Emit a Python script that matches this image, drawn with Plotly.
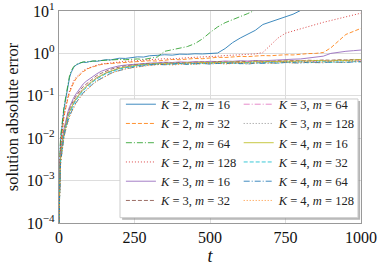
import plotly.graph_objects as go

T = [0, 1, 2, 4, 6, 8, 10, 13, 16, 20, 25, 30, 35, 40, 48, 56, 64, 72, 80, 90,
     100, 112, 125, 140, 155, 170, 185, 200, 220, 240, 260, 280, 300, 325, 350, 375, 400, 425, 450, 475,
     500, 525, 550, 575, 600, 625, 650, 675, 700, 725, 750, 775, 800, 825, 850, 875, 900, 925, 950, 975, 1000]

K2_m16 = [8e-5, 1.2e-3, 2.6e-3, 6.0e-3, 1.0e-2, 1.5e-2, 2.1e-2, 3.2e-2, 4.6e-2, 6.8e-2,
          0.115, 0.19, 0.27, 0.35, 0.46, 0.53, 0.57, 0.60, 0.62, 0.61,
          0.64, 0.66, 0.65, 0.68, 0.71, 0.70, 0.74, 0.77, 0.76, 0.80,
          0.83, 0.82, 0.88, 0.90, 0.93, 0.91, 0.96, 0.95, 0.98, 0.97,
          0.99, 1.02, 1.3, 1.8, 2.3, 2.85, 3.5, 4.8, 5.5, 6.2,
          7.1, 8.4, 10.3, 12.5, 14.5, 17, 19, 22, 25, 28, 31]
K2_m32 = [1e-4, 8e-4, 1.8e-3, 4.0e-3, 7.0e-3, 1.0e-2, 1.4e-2, 2.1e-2, 3.0e-2, 4.3e-2,
          6.5e-2, 9.0e-2, 0.12, 0.15, 0.20, 0.25, 0.29, 0.33, 0.37, 0.41,
          0.45, 0.48, 0.52, 0.55, 0.57, 0.58, 0.60, 0.61, 0.62, 0.64,
          0.63, 0.66, 0.67, 0.66, 0.70, 0.72, 0.71, 0.74, 0.76, 0.75,
          0.79, 0.81, 0.80, 0.83, 0.85, 0.84, 0.87, 0.89, 0.88, 0.91,
          0.93, 0.92, 0.96, 0.99, 1.0, 1.05, 1.35, 2.0, 2.8, 3.3, 3.9]
K2_m64 = [1e-4, 1.5e-3, 3.0e-3, 7.0e-3, 1.2e-2, 1.7e-2, 2.4e-2, 3.6e-2, 5.1e-2, 7.6e-2,
          0.13, 0.21, 0.30, 0.38, 0.48, 0.55, 0.58, 0.61, 0.63, 0.64,
          0.63, 0.66, 0.67, 0.66, 0.69, 0.70, 0.69, 0.72, 0.71, 0.73,
          0.74, 0.72, 0.75, 0.82, 1.12, 1.22, 1.32, 1.45, 1.7, 2.2,
          3.1, 4.2, 5.3, 6.2, 7.2, 8.7, 10.5, 12, 14, 16,
          18, 20, 23, 26, 29, 32, 35, 38, 41, 44, 48]
K2_m128 = [1e-4, 9e-4, 2.0e-3, 4.5e-3, 7.5e-3, 1.1e-2, 1.5e-2, 2.3e-2, 3.2e-2, 4.6e-2,
           7.0e-2, 0.10, 0.13, 0.16, 0.22, 0.27, 0.31, 0.35, 0.39, 0.43,
           0.46, 0.50, 0.53, 0.56, 0.58, 0.60, 0.62, 0.63, 0.65, 0.66,
           0.68, 0.69, 0.71, 0.72, 0.75, 0.74, 0.78, 0.79, 0.81, 0.82,
           0.85, 0.86, 0.89, 0.90, 0.93, 0.95, 0.97, 1.05, 1.6, 2.3,
           3.0, 3.4, 3.9, 4.4, 4.8, 5.4, 6.0, 6.6, 7.3, 8.1, 8.9]
K3_m16 = [1e-4, 6e-4, 1.3e-3, 3.0e-3, 4.5e-3, 6.5e-3, 8.5e-3, 1.2e-2, 1.6e-2, 2.2e-2,
          3.2e-2, 4.3e-2, 5.5e-2, 6.7e-2, 8.8e-2, 0.11, 0.135, 0.16, 0.19, 0.22,
          0.25, 0.29, 0.33, 0.38, 0.42, 0.45, 0.48, 0.51, 0.53, 0.55,
          0.57, 0.58, 0.59, 0.60, 0.62, 0.61, 0.63, 0.62, 0.64, 0.63,
          0.65, 0.64, 0.66, 0.65, 0.67, 0.66, 0.68, 0.67, 0.69, 0.70,
          0.71, 0.73, 0.74, 0.77, 0.80, 0.86, 1.0, 1.07, 1.12, 1.16, 1.2]
K3_m32 = [1e-4, 5e-4, 1.2e-3, 2.7e-3, 4.1e-3, 5.8e-3, 7.6e-3, 1.1e-2, 1.45e-2, 2.0e-2,
          2.9e-2, 3.8e-2, 4.9e-2, 6.0e-2, 7.8e-2, 9.8e-2, 0.12, 0.14, 0.165, 0.19,
          0.22, 0.26, 0.30, 0.34, 0.38, 0.42, 0.45, 0.48, 0.51, 0.53,
          0.55, 0.56, 0.58, 0.57, 0.60, 0.59, 0.61, 0.60, 0.62, 0.63,
          0.61, 0.64, 0.63, 0.62, 0.65, 0.64, 0.66, 0.65, 0.64, 0.67,
          0.66, 0.68, 0.67, 0.69, 0.68, 0.70, 0.69, 0.71, 0.70, 0.72, 0.71]
K3_m64 = [1e-4, 5e-4, 1.1e-3, 2.5e-3, 3.8e-3, 5.3e-3, 7.0e-3, 1.0e-2, 1.3e-2, 1.8e-2,
          2.6e-2, 3.4e-2, 4.4e-2, 5.3e-2, 7.0e-2, 8.8e-2, 0.107, 0.127, 0.148, 0.17,
          0.20, 0.23, 0.27, 0.31, 0.35, 0.39, 0.42, 0.45, 0.48, 0.51,
          0.53, 0.55, 0.56, 0.58, 0.57, 0.59, 0.60, 0.58, 0.61, 0.60,
          0.62, 0.61, 0.63, 0.60, 0.62, 0.64, 0.63, 0.62, 0.65, 0.64,
          0.66, 0.65, 0.67, 0.66, 0.65, 0.68, 0.67, 0.69, 0.68, 0.70, 0.69]
K3_m128 = [1e-4, 4.5e-4, 1.0e-3, 2.3e-3, 3.5e-3, 4.9e-3, 6.5e-3, 9.3e-3, 1.2e-2, 1.7e-2,
           2.4e-2, 3.2e-2, 4.1e-2, 5.0e-2, 6.6e-2, 8.3e-2, 0.10, 0.12, 0.14, 0.16,
           0.19, 0.22, 0.26, 0.30, 0.34, 0.37, 0.41, 0.44, 0.47, 0.50,
           0.52, 0.54, 0.55, 0.57, 0.56, 0.58, 0.57, 0.59, 0.58, 0.60,
           0.59, 0.61, 0.60, 0.62, 0.61, 0.60, 0.63, 0.62, 0.64, 0.63,
           0.65, 0.64, 0.63, 0.66, 0.65, 0.67, 0.66, 0.68, 0.67, 0.69, 0.70]
K4_m16 = [1e-4, 4.5e-4, 1.0e-3, 2.3e-3, 3.5e-3, 5.0e-3, 6.6e-3, 9.5e-3, 1.25e-2, 1.75e-2,
          2.5e-2, 3.3e-2, 4.2e-2, 5.1e-2, 6.7e-2, 8.4e-2, 0.102, 0.122, 0.143, 0.165,
          0.195, 0.225, 0.265, 0.305, 0.345, 0.38, 0.415, 0.445, 0.475, 0.505,
          0.53, 0.545, 0.56, 0.575, 0.57, 0.59, 0.58, 0.60, 0.59, 0.61,
          0.60, 0.62, 0.61, 0.63, 0.62, 0.61, 0.64, 0.63, 0.65, 0.64,
          0.66, 0.65, 0.67, 0.66, 0.68, 0.67, 0.66, 0.69, 0.68, 0.70, 0.72]
K4_m32 = [1e-4, 4e-4, 9e-4, 2.1e-3, 3.2e-3, 4.5e-3, 6.0e-3, 8.6e-3, 1.15e-2, 1.6e-2,
          2.3e-2, 3.0e-2, 3.8e-2, 4.7e-2, 6.2e-2, 7.8e-2, 9.5e-2, 0.113, 0.133, 0.155,
          0.183, 0.213, 0.25, 0.29, 0.33, 0.365, 0.40, 0.43, 0.46, 0.49,
          0.51, 0.53, 0.55, 0.56, 0.55, 0.57, 0.58, 0.56, 0.58, 0.57,
          0.59, 0.58, 0.60, 0.59, 0.57, 0.60, 0.59, 0.61, 0.60, 0.59,
          0.62, 0.61, 0.63, 0.60, 0.62, 0.64, 0.61, 0.63, 0.62, 0.64, 0.63]
K4_m64 = [1e-4, 3.5e-4, 8e-4, 1.9e-3, 2.9e-3, 4.0e-3, 5.3e-3, 7.6e-3, 1.0e-2, 1.4e-2,
          2.0e-2, 2.6e-2, 3.3e-2, 4.1e-2, 5.4e-2, 6.8e-2, 8.3e-2, 9.9e-2, 0.117, 0.138,
          0.163, 0.19, 0.225, 0.26, 0.30, 0.335, 0.37, 0.40, 0.43, 0.46,
          0.49, 0.51, 0.53, 0.55, 0.54, 0.56, 0.57, 0.55, 0.57, 0.58,
          0.56, 0.58, 0.57, 0.59, 0.58, 0.56, 0.59, 0.58, 0.60, 0.59,
          0.61, 0.60, 0.59, 0.62, 0.61, 0.60, 0.63, 0.62, 0.61, 0.63, 0.64]
K4_m128 = [1e-4, 3.5e-4, 7.8e-4, 1.8e-3, 2.8e-3, 3.9e-3, 5.1e-3, 7.3e-3, 9.7e-3, 1.35e-2,
           1.9e-2, 2.5e-2, 3.2e-2, 3.9e-2, 5.2e-2, 6.5e-2, 8.0e-2, 9.6e-2, 0.113, 0.133,
           0.158, 0.185, 0.22, 0.255, 0.295, 0.33, 0.365, 0.395, 0.43, 0.455,
           0.48, 0.50, 0.52, 0.54, 0.55, 0.53, 0.56, 0.57, 0.55, 0.58,
           0.57, 0.59, 0.56, 0.58, 0.60, 0.57, 0.59, 0.61, 0.58, 0.60,
           0.62, 0.59, 0.61, 0.63, 0.60, 0.62, 0.64, 0.61, 0.63, 0.65, 0.64]

SERIES = [
    (2, 16, K2_m16), (2, 32, K2_m32), (2, 64, K2_m64), (2, 128, K2_m128),
    (3, 16, K3_m16), (3, 32, K3_m32), (3, 64, K3_m64), (3, 128, K3_m128),
    (4, 16, K4_m16), (4, 32, K4_m32), (4, 64, K4_m64), (4, 128, K4_m128),
]
COLORS = ["#1f77b4", "#ff7f0e", "#2ca02c", "#d62728", "#9467bd", "#8c564b",
          "#e377c2", "#7f7f7f", "#bcbd22", "#17becf", "#1f77b4", "#ff7f0e"]
DASH = {16: "solid", 32: "4px,2px", 64: "6px,2px,1px,2px", 128: "1px,2px"}

Y_TICKS = [1e-4, 1e-3, 1e-2, 1e-1, 1e0, 1e1]
Y_TICK_TEXT = ["10<sup>−4</sup>", "10<sup>−3</sup>", "10<sup>−2</sup>",
               "10<sup>−1</sup>", "10<sup>0</sup>", "10<sup>1</sup>"]
X_TICKS = [0, 250, 500, 750, 1000]

FONT = "Liberation Serif"

fig = go.Figure()
for i, (k, m, vals) in enumerate(SERIES):
    fig.add_trace(go.Scatter(
        x=T, y=vals, mode="lines",
        name=f"<i>K</i> = {k}, <i>m</i> = {m}",
        line=dict(color=COLORS[i], width=1, dash=DASH[m]),
        opacity=0.85,
        legend="legend" if i < 6 else "legend2",
    ))

# legend frame with shadow (paper coordinates of the plot area)
bx0, bx1, by0, by1 = 0.202, 0.99, 0.025, 0.585
fig.add_shape(type="rect", xref="paper", yref="paper",
              x0=bx0 + 0.007, x1=bx1 + 0.007, y0=by0 - 0.010, y1=by1 - 0.010,
              fillcolor="rgba(120,120,120,0.55)", line=dict(width=0), layer="above")
fig.add_shape(type="rect", xref="paper", yref="paper",
              x0=bx0, x1=bx1, y0=by0, y1=by1,
              fillcolor="white", line=dict(color="#cccccc", width=1), layer="above")

leg_common = dict(bgcolor="rgba(0,0,0,0)", borderwidth=0,
                  font=dict(family=FONT, size=12.5, color="#222222"),
                  yanchor="bottom", y=0.035, xanchor="left",
                  tracegroupgap=0)

fig.update_layout(
    width=383, height=267,
    margin=dict(l=59, r=22, t=11, b=44, autoexpand=False),
    paper_bgcolor="white", plot_bgcolor="white",
    font=dict(family=FONT, size=15, color="#111111"),
    legend=dict(x=0.205, **leg_common),
    legend2=dict(x=0.595, **leg_common),
    xaxis=dict(range=[0, 1000], tickvals=X_TICKS, showgrid=True, automargin=False,
               gridcolor="#dddddd", gridwidth=1, zeroline=False, ticklabeloverflow="allow",
               showline=True, linecolor="#999999", linewidth=1.2, mirror=True,
               ticks="", tickfont=dict(size=16),
               title=dict(text="<i>t</i>", font=dict(size=18), standoff=0)),
    yaxis=dict(type="log", range=[-4, 1], tickvals=Y_TICKS, ticktext=Y_TICK_TEXT,
               showgrid=True, gridcolor="#dddddd", gridwidth=1, zeroline=False, automargin=False,
               ticklabeloverflow="allow",
               showline=True, linecolor="#999999", linewidth=1.2, mirror=True,
               ticks="", tickfont=dict(size=16),
               title=dict(text="solution absolute error", font=dict(size=16.5), standoff=4)),
    showlegend=True,
)

fig.write_html("out.html",
               config={"displayModeBar": False},
               post_script="document.body.style.margin='0';document.body.style.overflow='hidden';")
